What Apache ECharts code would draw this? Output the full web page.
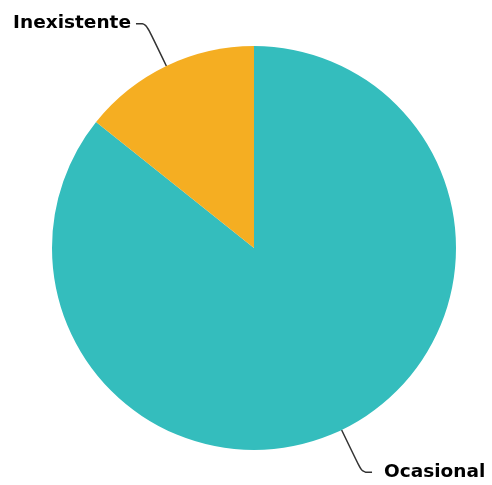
<!DOCTYPE html>
<html><head><meta charset="utf-8">
<script src="https://cdn.jsdelivr.net/npm/echarts@6/dist/echarts.min.js"></script>
<style>html,body{margin:0;padding:0;background:#fff}#c{width:492px;height:485px}</style>
</head><body><div id="c"></div>
<script>
const categories = ['Ocasional', 'Inexistente'];
const values = [6, 1];
const colors = ['#34bdbd', '#f5ae22'];
const labelPads = [[8, 0, 0, 7], [0, 0, 0, 0]];
const chart = echarts.init(document.getElementById('c'));
chart.setOption({
  animation: false,
  series: [{
    type: 'pie',
    center: [254, 248],
    radius: [0, 202],
    startAngle: 90,
    clockwise: true,
    data: categories.map((n, i) => ({ name: n, value: values[i], itemStyle: { color: colors[i] }, label: { padding: labelPads[i] } })),
    label: { show: true, color: '#000', fontWeight: 'bold', fontSize: 18.5, fontFamily: 'DejaVu Sans', formatter: '{b}', distanceToLabelLine: 5, overflow: 'none' },
    labelLine: { show: true, length: 47, length2: 10, smooth: true, lineStyle: { color: '#333', width: 1.5 } },
    emphasis: { disabled: true }
  }]
});
</script></body></html>
